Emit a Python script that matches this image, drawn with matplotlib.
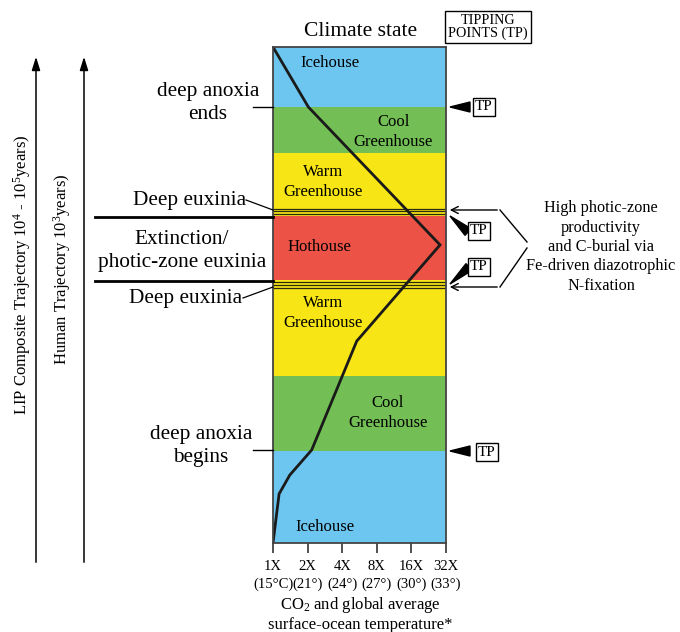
import numpy as np
import matplotlib.pyplot as plt
from matplotlib.patches import Polygon

plt.rcParams['font.family'] = 'Liberation Serif'
plt.rcParams['mathtext.fontset'] = 'custom'
plt.rcParams['mathtext.rm'] = 'Liberation Serif'
plt.rcParams['mathtext.it'] = 'Liberation Serif'

# climate state bands (relative position in trajectory, 0 = start, 100 = end)
band_names = ["Icehouse", "Cool\nGreenhouse", "Warm\nGreenhouse", "", "Hothouse",
              "", "Warm\nGreenhouse", "Cool\nGreenhouse", "Icehouse"]
band_bottom = [0, 18.6, 33.6, 51.0, 53.0, 65.9, 67.8, 78.6, 87.9]
band_top = [18.6, 33.6, 51.0, 53.0, 65.9, 67.8, 78.6, 87.9, 100]
band_colors = ["#6cc6ef", "#73bf55", "#f7e515", "#f7e515", "#ec5246",
               "#f7e515", "#f7e515", "#73bf55", "#6cc6ef"]
# label positions inside the column (CO2 multiple, position)
label_x = [2.83, 10.0, 2.72, None, 2.56, None, 2.72, 11.1, 3.1]
label_y = [3.2, 26.2, 46.4, None, 59.7, None, 72.8, 82.9, 96.8]

# euxinia bands drawn with thin lines
euxinia_bands = [(51.0, 53.0), (65.9, 67.8)]

# trajectory through climate states
traj_co2 = [1.0, 1.13, 1.40, 2.17, 5.35, 28.4, 2.03, 1.0]
traj_pos = [0, 9.9, 13.7, 18.75, 40.7, 60.1, 87.9, 100]

co2_ticks = [1, 2, 4, 8, 16, 32]
temp_labels = ["15°C", "21°", "24°", "27°", "30°", "33°"]

W, H = 680, 632
fig = plt.figure(figsize=(W / 100, H / 100), dpi=100)
ax = fig.add_axes([273 / W, 1 - 543 / H, 173 / W, 496 / H])

for b0, b1, c in zip(band_bottom, band_top, band_colors):
    ax.axhspan(b0, b1, color=c, lw=0)
for b0, b1 in euxinia_bands:
    for f in [0.2, 0.5, 0.8]:
        ax.axhline(b0 + f * (b1 - b0), color='#2a2a10', lw=0.9)
for name, lx, ly in zip(band_names, label_x, label_y):
    if name:
        ax.text(lx, ly, name, ha='center', va='center', fontsize=12, linespacing=1.3)

ax.plot(traj_co2, traj_pos, color='#1a1a1a', lw=2, solid_joinstyle='miter')

ax.set_xscale('log', base=2)
ax.set_xlim(1, 32)
ax.set_ylim(0, 100)
ax.set_xticks(co2_ticks)
ax.set_xticks([], minor=True)
ax.set_xticklabels([f"{c}X\n({t})" for c, t in zip(co2_ticks, temp_labels)], fontsize=10.5,
                   linespacing=1.5)
ax.tick_params(axis='x', length=7, width=1.2, color='#333333', pad=5)
ax.set_yticks([])
for s in ax.spines.values():
    s.set_color('#444444')
    s.set_linewidth(1.3)

# overlay for annotations, in pixel units
ov = fig.add_axes([0, 0, 1, 1], facecolor='none')
ov.set_xlim(0, W)
ov.set_ylim(H, 0)
ov.axis('off')

ov.text(361, 32, "Climate state", ha='center', va='center', fontsize=15.5)
ov.text(488, 27, "TIPPING\nPOINTS (TP)", ha='center', va='center', fontsize=10.2, linespacing=1.05,
        bbox=dict(boxstyle='square,pad=0.2', fc='white', ec='black', lw=1))

# left side labels
ov.text(208, 103, "deep anoxia\nends", ha='center', va='center', fontsize=15.3, linespacing=1.3)
ov.plot([253, 273], [107, 107], color='black', lw=1)
ov.text(246, 201, "Deep euxinia", ha='right', va='center', fontsize=15.3)
ov.plot([246, 273], [200, 210], color='black', lw=0.9)
ov.plot([95, 273], [217, 217], color='black', lw=2)
ov.plot([95, 273], [281, 281], color='black', lw=2)
ov.text(182, 251, "Extinction/\nphotic-zone euxinia", ha='center', va='center', fontsize=15.3,
        linespacing=1.3)
ov.text(242, 298, "Deep euxinia", ha='right', va='center', fontsize=15.3)
ov.plot([243, 273], [298, 287], color='black', lw=0.9)
ov.text(201, 446, "deep anoxia\nbegins", ha='center', va='center', fontsize=15.3, linespacing=1.3)
ov.plot([253, 273], [450, 450], color='black', lw=1)

# trajectory arrows
for xa in [36, 84]:
    ov.annotate('', xy=(xa, 54), xytext=(xa, 565),
                arrowprops=dict(arrowstyle='-|>,head_length=0.8,head_width=0.25', color='black', lw=1.1))
ov.text(22, 275, "LIP Composite Trajectory 10$^4$ - 10$^5$years)", rotation=90, ha='center',
        va='center', fontsize=12)
ov.text(62, 269, "Human Trajectory 10$^3$years)", rotation=90, ha='center', va='center', fontsize=12)


def tri(tip, tail, width):
    tip = np.array(tip, float)
    tail = np.array(tail, float)
    d = tip - tail
    n = np.array([-d[1], d[0]]) / np.hypot(*d) * width / 2
    ov.add_patch(Polygon([tip, tail + n, tail - n], closed=True, fc='black', ec='black'))


tp_box = dict(boxstyle='square,pad=0.15', fc='white', ec='black', lw=1)
tri((450, 107), (470, 107), 10)
ov.text(484, 107, "TP", ha='center', va='center', fontsize=11, bbox=tp_box)
tri((450, 216), (468, 232), 9)
ov.text(479, 231, "TP", ha='center', va='center', fontsize=11, bbox=tp_box)
tri((450, 284), (469, 267), 9)
ov.text(479, 267, "TP", ha='center', va='center', fontsize=11, bbox=tp_box)
tri((450, 451), (470, 451), 10)
ov.text(487, 452, "TP", ha='center', va='center', fontsize=11, bbox=tp_box)

# bracket to right hand note
ov.annotate('', xy=(447, 210), xytext=(500, 210),
            arrowprops=dict(arrowstyle='->,head_length=0.5,head_width=0.25', color='black', lw=1))
ov.plot([500, 527], [210, 242], color='black', lw=1)
ov.annotate('', xy=(447, 287), xytext=(500, 287),
            arrowprops=dict(arrowstyle='->,head_length=0.5,head_width=0.25', color='black', lw=1))
ov.plot([500, 527], [287, 248], color='black', lw=1)
ov.text(601, 247, "High photic-zone\nproductivity\nand C-burial via\nFe-driven diazotrophic\nN-fixation",
        ha='center', va='center', fontsize=11.7, linespacing=1.28)

ov.text(360, 614, "CO$_2$ and global average\nsurface-ocean temperature*", ha='center', va='center',
        fontsize=12, linespacing=1.1)

fig.savefig('out.png', dpi=100)
